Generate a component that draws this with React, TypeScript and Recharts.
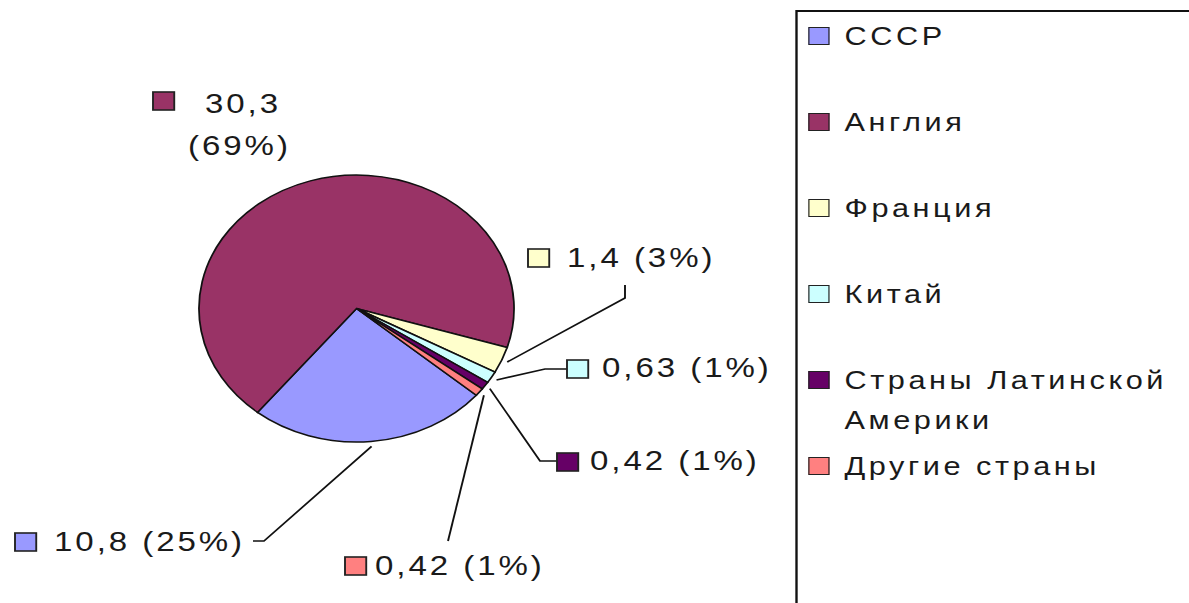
import React from 'react';
import { PieChart, Pie, Cell, Legend } from 'recharts';

const countries = ['СССР', 'Англия', 'Франция', 'Китай', 'Страны Латинской Америки', 'Другие страны'];
const values = [10.8, 30.3, 1.4, 0.63, 0.42, 0.42];
const colors = ['#9999FF', '#993366', '#FFFFCC', '#CCFFFF', '#660066', '#FF8080'];

const data = countries.map((name, i) => ({ name, value: values[i] }));

// horizontal stretch of the original picture
const SX = 1.18;
const W = 1189 / SX;
const H = 603;
const FONT = '"Liberation Sans", Arial, sans-serif';

// label placement in picture coordinates
const labelMarkers: [number, number][] = [[15, 533], [153, 92], [528, 249], [567, 360], [557, 453], [345, 557]];
const labelLines: [number, number][][] = [
  [[54, 551]],
  [[205, 113], [188, 155]],
  [[567, 267]],
  [[602, 377]],
  [[590, 470]],
  [[375, 575]],
];
const labelLeaders: [number, number][][] = [
  [[264, 541], [253, 541]],
  [],
  [[625, 298], [625, 285]],
  [[545, 369], [567, 369]],
  [[540, 461], [557, 461]],
  [[448, 541]],
];

const renderLabel = (props: any) => {
  const { cx, cy, midAngle, outerRadius, percent, index, value } = props;
  const val = String(value).replace('.', ',');
  const pct = `(${Math.round(percent * 100)}%)`;
  const lines = labelLines[index];
  const texts = lines.length > 1 ? [val, pct] : [`${val} ${pct}`];
  const a = (-midAngle * Math.PI) / 180;
  const r = outerRadius + 5;
  const ex = cx + r * Math.cos(a);
  const ey = cy + r * Math.sin(a);
  const leader = labelLeaders[index];
  const pts = leader.length ? [[ex, ey], ...leader.map(([x, y]) => [x / SX, y])] : [];
  const [mx, my] = labelMarkers[index];
  return (
    <g>
      {pts.length > 0 && (
        <polyline points={pts.map((p) => p.join(',')).join(' ')} fill="none" stroke="#111" strokeWidth={1.6} />
      )}
      <rect x={mx / SX} y={my} width={18} height={18} fill={colors[index]} stroke="#222" strokeWidth={1.6} />
      {texts.map((t, i) => (
        <text
          key={i}
          x={lines[i][0] / SX}
          y={lines[i][1]}
          fontFamily={FONT}
          fontSize={28}
          letterSpacing={2.5}
          fill="#1a1a1a"
        >
          {t}
        </text>
      ))}
    </g>
  );
};

const renderLegend = (props: any) => {
  const payload: any[] = props.payload || [];
  const ordered = countries.map((name, i) => {
    const p = payload.find((q) => q.value === name);
    return { name: p ? p.value : name, color: colors[i] };
  });
  return (
    <div
      style={{
        border: '2px solid #111',
        boxSizing: 'border-box',
        width: W - 795 / SX + 30,
        height: H,
        paddingTop: 4,
        fontFamily: FONT,
        fontSize: 26,
        letterSpacing: 3,
        color: '#1a1a1a',
        background: '#fff',
      }}
    >
      {ordered.map((p, i) => (
        <div
          key={i}
          style={{ position: 'relative', height: 86, paddingLeft: 40, lineHeight: '40px', width: 300 }}
        >
          <span
            style={{
              position: 'absolute',
              left: 9,
              top: 11,
              width: 18,
              height: 18,
              background: p.color,
              border: '1.6px solid #222',
              boxSizing: 'border-box',
            }}
          />
          {p.name}
        </div>
      ))}
    </div>
  );
};

export default function App() {
  return (
    <div style={{ position: 'absolute', left: 0, top: 0, width: 1189, height: 603, overflow: 'hidden', background: '#fff' }}>
      <div style={{ width: W, height: H, transform: `scaleX(${SX})`, transformOrigin: '0 0' }}>
        <PieChart width={W} height={H} margin={{ top: 0, right: 0, bottom: 0, left: 0 }}>
          <Pie
            data={data}
            dataKey="value"
            nameKey="name"
            cx={356.5 / SX}
            cy={308.5}
            outerRadius={133.5}
            startAngle={-40.5}
            endAngle={-400.5}
            stroke="#111"
            strokeWidth={1.5}
            label={renderLabel}
            labelLine={false}
            isAnimationActive={false}
          >
            {data.map((d, i) => (
              <Cell key={d.name} fill={colors[i]} />
            ))}
          </Pie>
          <Legend
            layout="vertical"
            align="right"
            verticalAlign="top"
            itemSorter={null}
            content={renderLegend}
            wrapperStyle={{ left: 795 / SX, top: 10, right: 'auto', width: W - 795 / SX + 30 }}
          />
        </PieChart>
      </div>
    </div>
  );
}
